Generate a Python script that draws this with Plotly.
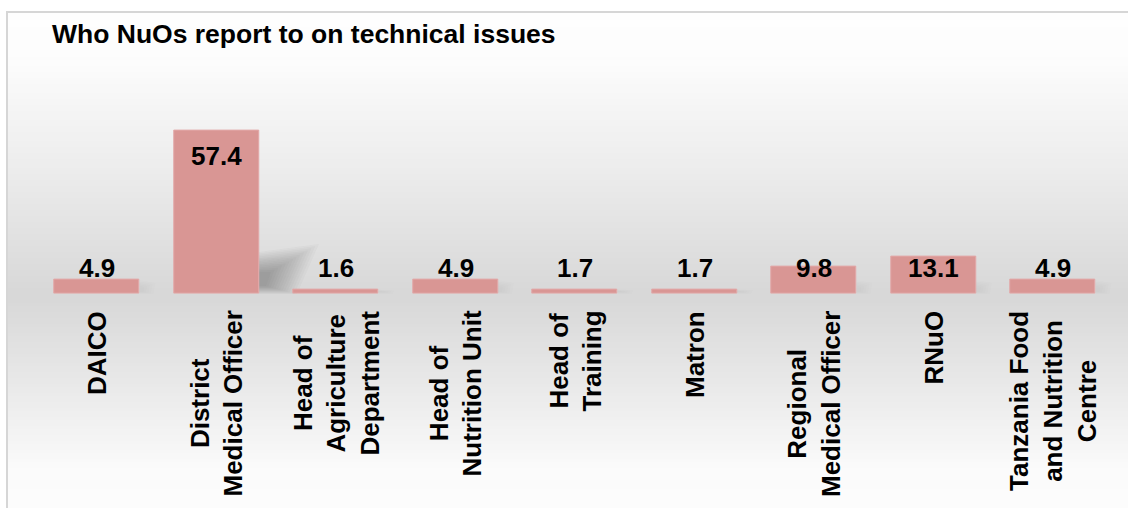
import plotly.graph_objects as go

# Reporting line for technical issues (% of NuOs)
categories = [
    "DAICO",
    "District<br>Medical Officer",
    "Head of<br>Agriculture<br>Department",
    "Head of<br>Nutrition Unit",
    "Head of<br>Training",
    "Matron",
    "Regional<br>Medical Officer",
    "RNuO",
    "Tanzania Food<br>and Nutrition<br>Centre",
]
values = [4.9, 57.4, 1.6, 4.9, 1.7, 1.7, 9.8, 13.1, 4.9]

title_text = "Who NuOs report to on technical issues"

W, H = 1128, 508
BAR_COLOR = "#d99694"
FONT = "Liberation Sans, Arial, sans-serif"
BAR_WIDTH = 0.71
Y_MAX = 60

x_idx = list(range(len(categories)))

fig = go.Figure()
fig.add_trace(go.Bar(
    x=x_idx, y=values, width=BAR_WIDTH,
    marker=dict(color=BAR_COLOR, line=dict(color="#e2a9a8", width=1)),
    hoverinfo="skip", showlegend=False,
))

shapes = []

# vertical grey gradient behind the chart (white -> grey at baseline -> white)
def grey_at(py):
    stops = [(0, 254), (55, 253), (170, 236), (290, 216), (300, 216), (400, 236), (470, 251), (508, 252)]
    for (y0, c0), (y1, c1) in zip(stops[:-1], stops[1:]):
        if y0 <= py <= y1:
            t = (py - y0) / (y1 - y0) if y1 > y0 else 0
            return round(c0 + (c1 - c0) * t)
    return stops[-1][1]

step = 3
py = 12
while py < H:
    c = grey_at(py + step / 2)
    shapes.append(dict(
        type="rect", xref="paper", yref="paper", layer="below",
        x0=7 / W, x1=1.01, y0=1 - (py + step) / H, y1=1 - py / H,
        fillcolor=f"rgb({c},{c},{c})", line=dict(width=0),
    ))
    py += step

# outer frame
shapes.append(dict(
    type="rect", xref="paper", yref="paper", layer="below",
    x0=7 / W, x1=1.02, y0=-0.02, y1=1 - 12 / H,
    fillcolor="rgba(0,0,0,0)", line=dict(color="#d6d6d6", width=2),
))


def blend_poly(outer, inner, t):
    pts = [(o[0] + (n[0] - o[0]) * t, o[1] + (n[1] - o[1]) * t) for o, n in zip(outer, inner)]
    return "M " + " L ".join(f"{x:.1f} {y:.1f}" for x, y in pts) + " Z"


# soft cast shadows at the foot of each bar (pixel-sized paths anchored at bar corner)
for i, v in enumerate(values):
    anchor_x = i + BAR_WIDTH / 2
    if v > 30:
        outer = [(0, 0), (0, 42), (60, 50), (38, 0)]
        inner = [(0, 8), (0, 22), (12, 22), (7, 8)]
        n_layers, op = 14, 0.033
    else:
        hpx = min(v * 2.84, 14)
        outer = [(0, 0), (0, hpx), (16, hpx * 0.8), (14, 0)]
        inner = [(0, 2), (0, hpx * 0.6), (5, hpx * 0.5), (4, 2)]
        n_layers, op = 5, 0.012
    for k in range(n_layers):
        t = k / (n_layers - 1)
        shapes.append(dict(
            type="path", layer="below", xref="x", yref="y",
            xsizemode="pixel", ysizemode="pixel",
            xanchor=anchor_x, yanchor=0, path=blend_poly(outer, inner, t),
            fillcolor=f"rgba(50,50,50,{op})", line=dict(width=0),
        ))

annotations = []

# title
annotations.append(dict(
    text=f"<b>{title_text}</b>", xref="paper", yref="paper",
    x=50 / W, y=1 - 17 / H, xanchor="left", yanchor="top", showarrow=False,
    font=dict(family=FONT, size=26.5, color="#000000"),
))

# value labels
for i, v in enumerate(values):
    if v > 30:
        ann = dict(y=v, yanchor="top", yshift=-8)
    else:
        ann = dict(y=9.2, yanchor="middle")
    annotations.append(dict(
        text=f"<b>{v:.1f}</b>", xref="x", yref="y", x=i, showarrow=False,
        font=dict(family=FONT, size=26, color="#000000"), **ann,
    ))

# rotated category labels below the baseline
for i, c in enumerate(categories):
    annotations.append(dict(
        text=f"<b>{c}</b>", xref="x", yref="paper", x=i, y=1 - 309 / H,
        xanchor="center", yanchor="top", textangle=-90, align="center",
        showarrow=False, font=dict(family=FONT, size=26, color="#000000"),
    ))

x_left, x_right = 37.25, 1112.75
y_base, px_per_unit = 294, 2.84
y_top = y_base - Y_MAX * px_per_unit

fig.update_layout(
    width=W, height=H, autosize=False,
    margin=dict(l=0, r=0, t=0, b=0),
    paper_bgcolor="#ffffff", plot_bgcolor="rgba(0,0,0,0)",
    xaxis=dict(domain=[x_left / W, x_right / W], range=[-0.5, len(categories) - 0.5],
               showticklabels=False, showgrid=False, zeroline=False, showline=False,
               fixedrange=True),
    yaxis=dict(domain=[1 - y_base / H, 1 - y_top / H], range=[0, Y_MAX],
               showticklabels=False, showgrid=False, zeroline=False, showline=False,
               fixedrange=True),
    shapes=shapes, annotations=annotations, bargap=0,
)

fig.write_html("out.html")
